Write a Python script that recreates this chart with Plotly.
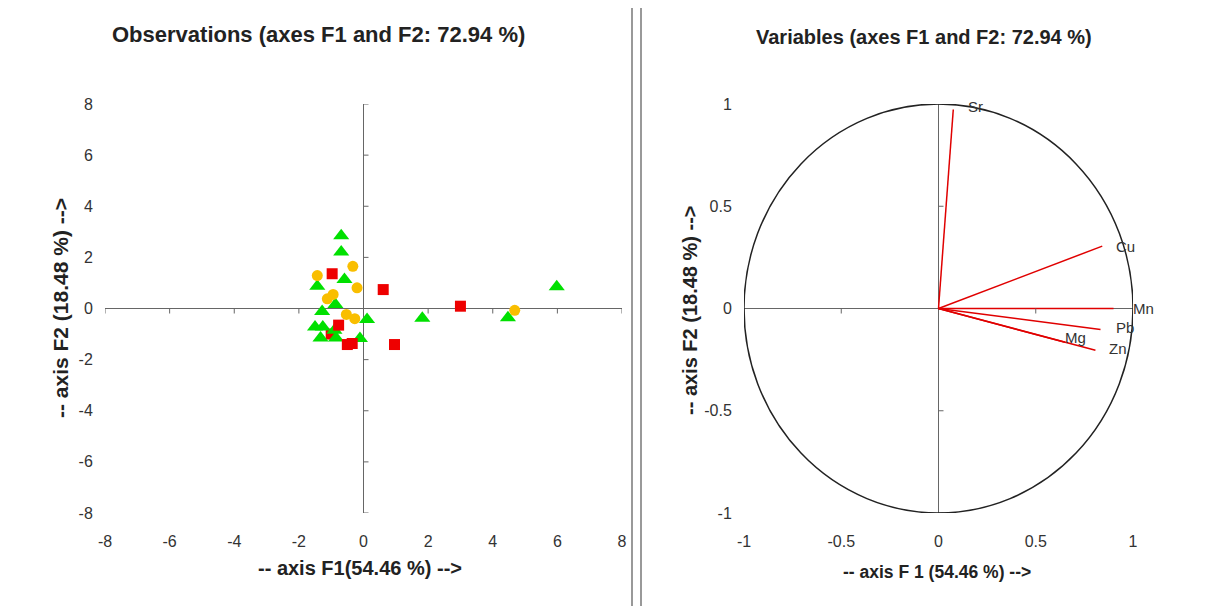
import plotly.graph_objects as go

# ---------------- data ----------------
# Observations (F1, F2) with group: g = green triangle, o = orange circle, r = red square
obs_f1 = [-1.00,
          -0.69, -0.69, -0.59, -1.43, -0.87, -1.28, 0.11, 1.82, 4.47, 5.98,
          -1.50, -1.26, -0.90, -1.33, -0.85, -0.11,
          -0.33, -1.43, -0.20, -1.12, -0.94, -0.53, -0.27, 4.68,
          -0.97, 0.61, 3.00, -0.77, -0.50, -0.35, 0.96]
obs_f2 = [-1.00,
          2.85, 2.21, 1.13, 0.87, 0.16, -0.12, -0.43, -0.38, -0.36, 0.85,
          -0.72, -0.72, -0.85, -1.15, -1.15, -1.17,
          1.65, 1.29, 0.81, 0.38, 0.55, -0.23, -0.40, -0.07,
          1.36, 0.74, 0.09, -0.65, -1.41, -1.37, -1.41]
obs_group = ["r",
             "g", "g", "g", "g", "g", "g", "g", "g", "g", "g",
             "g", "g", "g", "g", "g", "g",
             "o", "o", "o", "o", "o", "o", "o", "o",
             "r", "r", "r", "r", "r", "r", "r"]

var_names = ["Sr", "Cu", "Mn", "Pb", "Mg", "Zn"]
var_f1 = [0.076, 0.842, 0.900, 0.833, 0.650, 0.807]
var_f2 = [0.973, 0.305, 0.000, -0.103, -0.165, -0.204]

obs_ticks = [-8, -6, -4, -2, 0, 2, 4, 6, 8]
obs_tick_text = ["-8", "-6", "-4", "-2", "0", "2", "4", "6", "8"]
var_ticks = [-1, -0.5, 0, 0.5, 1]
var_tick_text = ["-1", "-0.5", "0", "0.5", "1"]

# ---------------- style ----------------
FONT = "Liberation Sans, Arial, sans-serif"
sym = {"g": "triangle-up", "o": "circle", "r": "square"}
col = {"g": "#00E000", "o": "#F9BE00", "r": "#EE0000"}
siz = {"g": 14, "o": 11, "r": 11}
label_shift = {"Sr": (22, 3), "Cu": (23, 0), "Mn": (30, 0),
               "Pb": (24, 2), "Mg": (11, 5), "Zn": (23, 2)}

fig = go.Figure()

fig.add_trace(go.Scatter(
    x=obs_f1, y=obs_f2, mode="markers",
    marker=dict(symbol=[sym[g] for g in obs_group],
                color=[col[g] for g in obs_group],
                size=[siz[g] for g in obs_group],
                opacity=1, line=dict(width=0)),
    xaxis="x", yaxis="y", showlegend=False, hoverinfo="skip"))

for n, fx, fy in zip(var_names, var_f1, var_f2):
    fig.add_trace(go.Scatter(
        x=[0, fx], y=[0, fy], mode="lines",
        line=dict(color="#E00000", width=1.5),
        xaxis="x2", yaxis="y2", showlegend=False, hoverinfo="skip"))
    dx, dy = label_shift[n]
    fig.add_annotation(x=fx, y=fy, xref="x2", yref="y2", text=n,
                       showarrow=False, xshift=dx, yshift=dy,
                       font=dict(family=FONT, size=15, color="#333333"))

ydom = [(606 - 513) / 606, (606 - 104) / 606]
axis_common = dict(showgrid=False, showline=False, zeroline=True,
                   zerolinecolor="#666666", zerolinewidth=1,
                   ticks="outside", tickcolor="rgba(0,0,0,0)",
                   automargin=False,
                   tickfont=dict(family=FONT, size=16, color="#333333"))

fig.update_layout(
    width=1208, height=606,
    margin=dict(l=0, r=0, t=0, b=0, pad=0),
    paper_bgcolor="white", plot_bgcolor="white",
    xaxis=dict(domain=[105 / 1208, 622 / 1208], range=[-8, 8],
               tickvals=obs_ticks, ticktext=obs_tick_text,
               ticklen=14, anchor="y", **axis_common),
    yaxis=dict(domain=ydom, range=[-8, 8], tickvals=obs_ticks,
               ticktext=obs_tick_text, ticklen=8, anchor="x", **axis_common),
    xaxis2=dict(domain=[744 / 1208, 1133 / 1208], range=[-1, 1],
                tickvals=var_ticks, ticktext=var_tick_text,
                ticklen=14, anchor="y2", **axis_common),
    yaxis2=dict(domain=ydom, range=[-1, 1], tickvals=var_ticks,
                ticktext=var_tick_text, ticklen=8, anchor="x2", **axis_common),
)

shapes = []
# small tick marks on the zero axes
for xr, yr, tv in (("x", "y", obs_ticks), ("x2", "y2", var_ticks)):
    for v in tv:
        if v == 0:
            continue
        shapes.append(dict(type="line", xref=xr, yref=yr, x0=v, x1=v,
                           ysizemode="pixel", yanchor=0, y0=0, y1=-5,
                           line=dict(color="#666666", width=1)))
        shapes.append(dict(type="line", xref=xr, yref=yr, y0=v, y1=v,
                           xsizemode="pixel", xanchor=0, x0=0, x1=5,
                           line=dict(color="#666666", width=1)))
# correlation circle
shapes.append(dict(type="circle", xref="x2", yref="y2", x0=-1, y0=-1, x1=1, y1=1,
                   line=dict(color="#222222", width=1.5), layer="above"))
# divider double line
for px in (632, 641):
    shapes.append(dict(type="line", xref="paper", yref="paper",
                       x0=px / 1208, x1=px / 1208, y0=0, y1=1 - 8 / 606,
                       line=dict(color="#777777", width=1.5)))
fig.update_layout(shapes=shapes)

def ann(text, x, y, size, angle=0):
    fig.add_annotation(text=text, x=x / 1208, y=1 - y / 606, xref="paper", yref="paper",
                       showarrow=False, textangle=angle, xanchor="center", yanchor="middle",
                       font=dict(family=FONT, size=size, color="#222222"))

ann("<b>Observations (axes F1 and F2: 72.94 %)</b>", 318, 35, 22)
ann("<b>Variables (axes F1 and F2: 72.94 %)</b>", 924, 37, 20)
ann("<b>-- axis F1(54.46 %) --></b>", 360, 568, 20)
ann("<b>-- axis F 1 (54.46 %) --></b>", 937, 572, 17.5)
ann("<b>-- axis F2 (18.48 %) --></b>", 60, 308, 21, -90)
ann("<b>-- axis F2 (18.48 %) --></b>", 690, 310, 20, -90)

fig.write_html(
    "out.html",
    config={"displayModeBar": False},
    post_script="document.documentElement.style.margin='0';"
                "document.documentElement.style.padding='0';"
                "document.body.style.margin='0';document.body.style.padding='0';"
                "document.body.style.overflow='hidden';",
)
